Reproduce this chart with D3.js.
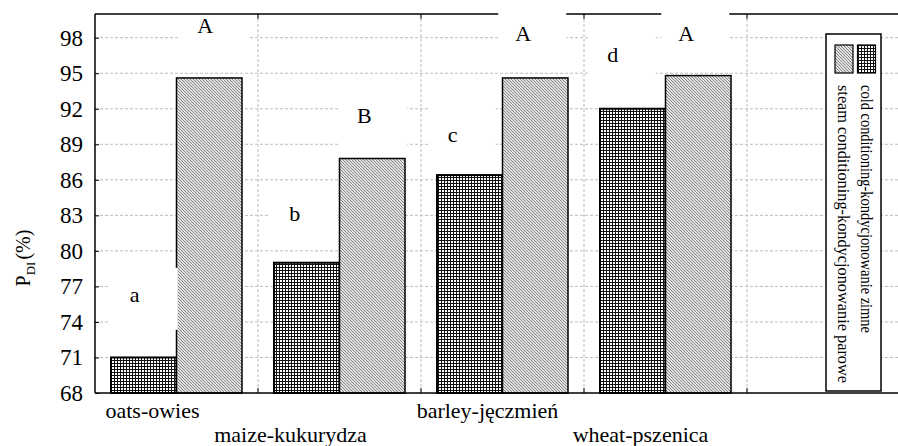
<!DOCTYPE html>
<html><head><meta charset="utf-8">
<script src="https://cdn.jsdelivr.net/npm/d3@7"></script>
<style>body{margin:0;background:#fff}svg{display:block}</style>
</head><body>
<script>
const categories = ["oats-owies","maize-kukurydza","barley-jęczmień","wheat-pszenica"];
const seriesNames = ["cold conditioning-kondycjonowanie zimne","steam conditioning-kondycjonowanie parowe"];
const coldValues = [71.0, 79.0, 86.4, 92.0];
const steamValues = [94.6, 87.8, 94.6, 94.8];
const yTicks = [68,71,74,77,80,83,86,89,92,95,98];
const coldLetters = ["a","b","c","d"];
const steamLetters = ["A","B","A","A"];
const coldLetterAt = [75.7, 82.5, 89.2, 95.95];
const steamLetterAt = [98.4, 90.8, 97.7, 97.7];

(function(){
const W = 898, H = 446;
const svg = d3.select("body").append("svg").attr("width", W).attr("height", H);
const defs = svg.append("defs");
const pc = defs.append("pattern").attr("id","cold").attr("patternUnits","userSpaceOnUse").attr("width",3).attr("height",3);
pc.append("rect").attr("width",3).attr("height",3).attr("fill","#fff");
pc.append("rect").attr("x",0).attr("y",0).attr("width",3).attr("height",1).attr("fill","#111");
pc.append("rect").attr("x",0).attr("y",0).attr("width",1).attr("height",3).attr("fill","#111");
const ps = defs.append("pattern").attr("id","steam").attr("patternUnits","userSpaceOnUse").attr("width",3).attr("height",3);
ps.append("rect").attr("width",3).attr("height",3).attr("fill","#e2e2e2");
ps.append("path").attr("d","M0,0L3,3M-1,2L1,4M2,-1L4,1").attr("stroke","#7c7c7c").attr("stroke-width",0.9);

const mLeft = 95, mTop = 14, mBottom = 393, bandW = 163;
const slots = [...categories, "legend"];
const x = d3.scaleBand().domain(slots).range([mLeft, mLeft + bandW*slots.length]).padding(0);
const x1 = d3.scaleBand().domain(["cold","steam"]).range([16, bandW-16]).padding(0);
const y = d3.scaleLinear().domain([68,100]).range([mBottom, mTop]);

// grid
const g = svg.append("g");
g.selectAll(".hg").data(yTicks.slice(1)).join("line")
  .attr("x1", mLeft).attr("x2", W).attr("y1", d=>y(d)).attr("y2", d=>y(d))
  .attr("stroke","#bdbdbd").attr("stroke-dasharray","3,2").attr("stroke-width",1);
g.selectAll(".vg").data(slots.slice(1)).join("line")
  .attr("x1", d=>x(d)).attr("x2", d=>x(d)).attr("y1", mTop).attr("y2", mBottom)
  .attr("stroke","#bdbdbd").attr("stroke-dasharray","3,2").attr("stroke-width",1);

// bars
const bars = svg.append("g");
categories.forEach((c,i)=>{
  bars.append("rect").attr("x", x(c)+x1("cold")).attr("y", y(coldValues[i]))
    .attr("width", x1.bandwidth()).attr("height", y(68)-y(coldValues[i]))
    .attr("fill","url(#cold)").attr("stroke","#000").attr("stroke-width",2);
  bars.append("rect").attr("x", x(c)+x1("steam")).attr("y", y(steamValues[i]))
    .attr("width", x1.bandwidth()).attr("height", y(68)-y(steamValues[i]))
    .attr("fill","url(#steam)").attr("stroke","#000").attr("stroke-width",1.5);
});

// frame
svg.append("line").attr("x1",mLeft).attr("x2",W).attr("y1",mTop).attr("y2",mTop).attr("stroke","#000").attr("stroke-width",1.5);
svg.append("line").attr("x1",mLeft).attr("x2",W).attr("y1",mBottom).attr("y2",mBottom).attr("stroke","#000").attr("stroke-width",1.5);
svg.append("line").attr("x1",mLeft).attr("x2",mLeft).attr("y1",mTop).attr("y2",mBottom).attr("stroke","#000").attr("stroke-width",1.5);
slots.slice(1).forEach(s=>{
  svg.append("line").attr("x1",x(s)).attr("x2",x(s)).attr("y1",mBottom).attr("y2",mBottom-5).attr("stroke","#000");
  svg.append("line").attr("x1",x(s)).attr("x2",x(s)).attr("y1",mTop).attr("y2",mTop+5).attr("stroke","#000");
});

// y axis
const ya = svg.append("g").attr("transform",`translate(${mLeft},0)`)
  .call(d3.axisLeft(y).tickValues(yTicks).tickSize(-4).tickPadding(12).tickSizeOuter(0));
ya.select(".domain").remove();
ya.selectAll("text").attr("font-family","Liberation Serif").attr("font-size",23).attr("fill","#000");

// y title
const yt = svg.append("text").attr("transform","translate(30,258) rotate(-90)")
  .attr("text-anchor","middle").attr("font-family","Liberation Serif").attr("font-size",20).attr("fill","#000");
yt.append("tspan").text("P");
yt.append("tspan").text("DI").attr("font-size",13).attr("dy",5);
yt.append("tspan").text("(%)").attr("dy",-5).attr("dx",2);

// category labels (staggered)
const labelShift = [-24, -49, -15, -25];
categories.forEach((c,i)=>{
  svg.append("text").attr("x", x(c)+bandW/2 + labelShift[i]).attr("y", i%2===0 ? 418 : 442)
    .attr("text-anchor","middle").attr("font-family","Liberation Serif").attr("font-size",22).attr("fill","#000").text(c);
});

// letter labels with white boxes
function letter(txt, cx, val, keepFrame){
  const by = y(val);
  const bt = keepFrame ? Math.max(by-34, mTop+1.5) : by-34;
  svg.append("rect").attr("x", cx-25).attr("y", bt).attr("width",68).attr("height",by+28-bt).attr("fill","#fff");
  svg.append("text").attr("x",cx).attr("y",by).attr("text-anchor","middle")
    .attr("font-family","Liberation Serif").attr("font-size",22).attr("fill","#000").text(txt);
}
const coldShift = [-9, -12, -17, -20];
const steamShift = [-4, -8, -12, -12];
categories.forEach((c,i)=>{
  letter(coldLetters[i], x(c)+x1("cold")+x1.bandwidth()/2+coldShift[i], coldLetterAt[i], false);
  letter(steamLetters[i], x(c)+x1("steam")+x1.bandwidth()/2+steamShift[i], steamLetterAt[i], i===0);
});

// legend
const lg = svg.append("g");
lg.append("rect").attr("x",826).attr("y",34).attr("width",55).attr("height",357).attr("fill","#fff").attr("stroke","#000").attr("stroke-width",1.5);
const fills = ["url(#cold)","url(#steam)"];
const colX = [866.5, 844];
const textLen = [248, 298];
seriesNames.forEach((n,i)=>{
  lg.append("rect").attr("x", colX[i]-9).attr("y",45).attr("width",18).attr("height",28).attr("fill",fills[i]).attr("stroke","#000").attr("stroke-width",1.2);
  lg.append("text").attr("transform",`translate(${colX[i]-6},85) rotate(90)`)
    .attr("font-family","Liberation Serif").attr("font-size",16.4).attr("fill","#000")
    .attr("textLength", textLen[i]).attr("lengthAdjust","spacingAndGlyphs").text(n);
});
})();
</script>
</body></html>
